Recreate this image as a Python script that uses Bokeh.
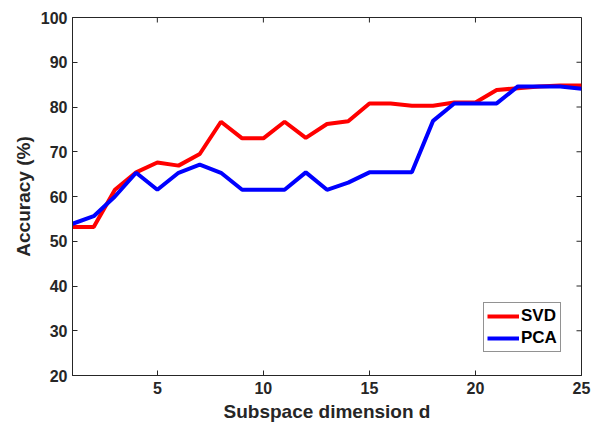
import math
from bokeh.plotting import figure
from bokeh.models import Range1d, FixedTicker, Legend, LegendItem
from bokeh.embed import file_html
from bokeh.resources import INLINE

d = list(range(1, 26))
svd = [53.2, 53.2, 61.5, 65.4, 67.6, 66.9, 69.5, 76.7, 73.0, 73.0, 76.7, 73.1, 76.2, 76.8,
       80.8, 80.8, 80.3, 80.3, 81.0, 81.0, 83.8, 84.2, 84.6, 84.8, 84.8]
pca = [53.9, 55.6, 60.0, 65.3, 61.5, 65.3, 67.1, 65.3, 61.5, 61.5, 61.5, 65.4, 61.5, 63.1,
       65.4, 65.4, 65.4, 76.9, 80.8, 80.8, 80.8, 84.6, 84.6, 84.6, 84.1]
x_ticks = [5, 10, 15, 20, 25]
y_ticks = [20, 30, 40, 50, 60, 70, 80, 90, 100]

FONT = "Liberation Sans"
TXT = "#262626"

p = figure(width=597, height=424, output_backend="svg", toolbar_location=None,
           x_range=Range1d(1, 25), y_range=Range1d(20, 100),
           min_border_left=72, min_border_right=16, min_border_top=17, min_border_bottom=48)
p.grid.visible = False
p.background_fill_color = "white"
p.border_fill_color = "white"
p.outline_line_color = TXT
p.outline_line_width = 1

r1 = p.line(d, svd, line_color="#ff0000", line_width=4)
r2 = p.line(d, pca, line_color="#0000ff", line_width=4)

# inward ticks on the top and right edges of the box
p.ray(x=x_ticks, y=[y_ticks[-1]] * len(x_ticks), length=5, length_units="screen",
      angle=-math.pi / 2, line_color=TXT, line_width=1)
p.ray(x=[x_ticks[-1]] * len(y_ticks), y=y_ticks, length=5, length_units="screen",
      angle=math.pi, line_color=TXT, line_width=1)

for ax in (p.xaxis[0], p.yaxis[0]):
    ax.axis_line_color = TXT
    ax.major_tick_line_color = TXT
    ax.major_tick_in = 5
    ax.major_tick_out = 0
    ax.minor_tick_line_color = None
    ax.major_label_text_font = FONT
    ax.major_label_text_font_style = "bold"
    ax.major_label_text_font_size = "16px"
    ax.major_label_text_color = TXT
    ax.axis_label_text_font = FONT
    ax.axis_label_text_font_style = "bold"
    ax.axis_label_text_font_size = "19px"
    ax.axis_label_text_color = TXT

p.xaxis[0].ticker = FixedTicker(ticks=x_ticks)
p.yaxis[0].ticker = FixedTicker(ticks=y_ticks)
p.xaxis[0].axis_label = "Subspace dimension d"
p.yaxis[0].axis_label = "Accuracy (%)"
p.xaxis[0].major_label_standoff = 6
p.yaxis[0].major_label_standoff = 5
p.xaxis[0].axis_label_standoff = 4
p.yaxis[0].axis_label_standoff = 4

legend = Legend(items=[LegendItem(label="SVD", renderers=[r1]),
                       LegendItem(label="PCA", renderers=[r2])],
                location=(411, 23))
legend.label_text_font = FONT
legend.label_text_font_style = "bold"
legend.label_text_font_size = "17px"
legend.label_text_color = "black"
legend.glyph_width = 32
legend.glyph_height = 20
legend.label_height = 20
legend.label_standoff = 2
legend.padding = 3
legend.spacing = 2
legend.margin = 0
legend.border_line_color = TXT
legend.border_line_width = 1
legend.background_fill_color = "white"
legend.background_fill_alpha = 1
p.add_layout(legend)

open("out.html", "w").write(file_html(p, INLINE))
